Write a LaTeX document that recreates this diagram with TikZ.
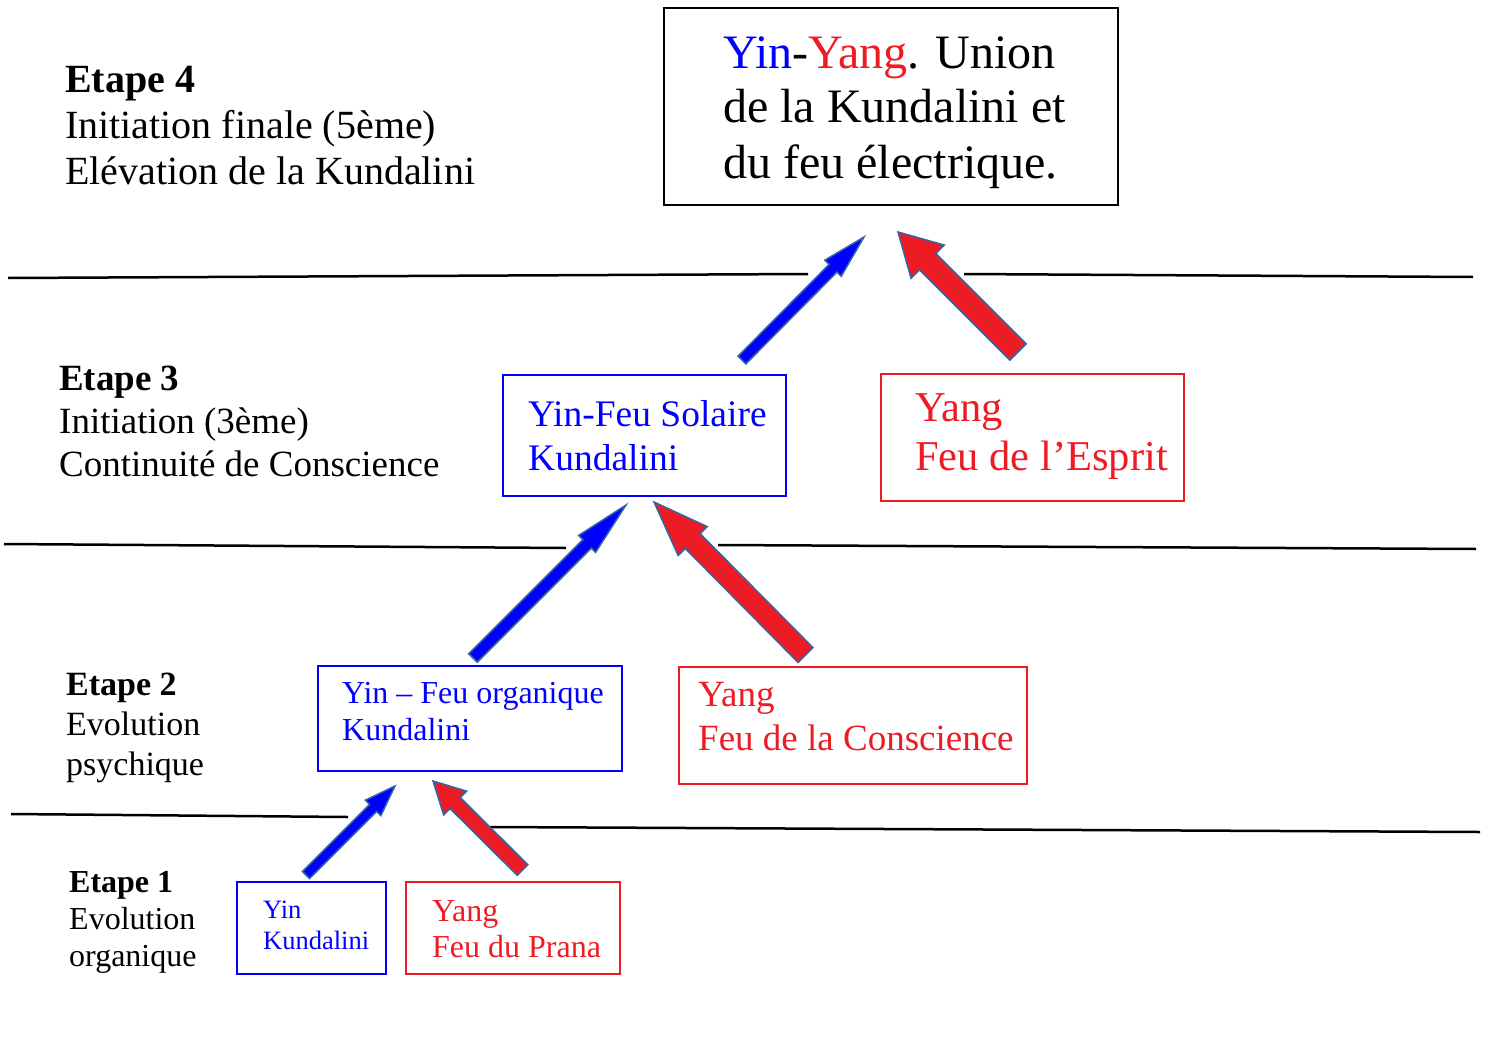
\documentclass[tikz,border=0pt]{standalone}
\usepackage{fontspec}
\setmainfont{Liberation Serif}
\usepackage{tikz}
\usetikzlibrary{calc}

\definecolor{yinblue}{RGB}{0,0,255}
\definecolor{yangred}{RGB}{237,28,36}
\definecolor{arrowline}{RGB}{52,101,164}

\newcommand{\txtsize}[2]{\fontsize{#1pt}{#2pt}\selectfont}
% block arrow: tail, tip, fill, shaft width, head width, head length
\newcommand{\fatarrow}[6]{%
  \path[arrowedge, fill=#3] let \p1=(#1), \p2=(#2),
      \n1={atan2(\y2-\y1,\x2-\x1)}, \n2={veclen(\x2-\x1,\y2-\y1)} in
    ($(#1)+(\n1+90:#4/2)$) -- ++(\n1:\n2-#6) -- ++(\n1+90:#5/2-#4/2) -- (#2)
    -- ($(#2)+(\n1+180:#6)+(\n1-90:#5/2)$) -- ++(\n1+90:#5/2-#4/2)
    -- ($(#1)+(\n1-90:#4/2)$) -- cycle;}

\begin{document}
\begin{tikzpicture}[x=1pt,y=1pt,
    box/.style={draw, line width=2pt, inner sep=0pt},
    bluebox/.style={box, draw=yinblue},
    redbox/.style={box, draw=yangred},
    txt/.style={anchor=base west, align=left, inner sep=0pt},
    separator/.style={line width=2.5pt},
    arrowedge/.style={draw=arrowline, line width=1.5pt, line join=miter}]
  \useasboundingbox (0,0) rectangle (1490,-1046);

  % stage labels (placed at the baseline of their last line)
  \node[txt, font=\txtsize{40}{46}] (etape4) at (65,-184)
    {\textbf{Etape 4}\\Initiation finale (5ème)\\Elévation de la Kundalini};
  \node[txt, font=\txtsize{37}{43}] (etape3) at (59,-476)
    {\textbf{Etape 3}\\Initiation (3ème)\\Continuité de Conscience};
  \node[txt, font=\txtsize{34}{40}] (etape2) at (66,-775)
    {\textbf{Etape 2}\\Evolution\\psychique};
  \node[txt, font=\txtsize{32}{37}] (etape1) at (69,-966)
    {\textbf{Etape 1}\\Evolution\\organique};

  % boxes
  \node[box, minimum width=454pt, minimum height=197pt] (final) at (891,-106.5) {};
  \node[bluebox, minimum width=283pt, minimum height=121pt] (yin3) at (644.5,-435.5) {};
  \node[redbox, minimum width=303pt, minimum height=127pt] (yang3) at (1032.5,-437.5) {};
  \node[bluebox, minimum width=304pt, minimum height=105pt] (yin2) at (470,-718.5) {};
  \node[redbox, minimum width=348pt, minimum height=117pt] (yang2) at (853,-725.5) {};
  \node[bluebox, minimum width=149pt, minimum height=92pt] (yin1) at (311.5,-928) {};
  \node[redbox, minimum width=214pt, minimum height=92pt] (yang1) at (513,-928) {};

  % box texts
  \node[txt, font=\txtsize{48}{55}] (finaltxt) at (723,-178)
    {\textcolor{yinblue}{Yin}-\textcolor{yangred}{Yang}. Union\\de la Kundalini et\\du feu électrique.};
  \node[txt, text=yinblue, font=\txtsize{37.5}{44}] (yin3txt) at (528,-470)
    {Yin-Feu Solaire\\Kundalini};
  \node[txt, text=yangred, font=\txtsize{42.5}{49}] (yang3txt) at (915,-470)
    {Yang\\Feu de l’Esprit};
  \node[txt, text=yinblue, font=\txtsize{32}{37}] (yin2txt) at (342,-740)
    {Yin – Feu organique\\Kundalini};
  \node[txt, text=yangred, font=\txtsize{37}{44}] (yang2txt) at (698,-750)
    {Yang\\Feu de la Conscience};
  \node[txt, text=yinblue, font=\txtsize{26.5}{31}] (yin1txt) at (263,-949)
    {Yin\\Kundalini};
  \node[txt, text=yangred, font=\txtsize{32}{36}] (yang1txt) at (432,-957)
    {Yang\\Feu du Prana};

  % separators
  \draw[separator] (8,-278) -- (808,-274);
  \draw[separator] (964,-274) -- (1473,-277);
  \draw[separator] (4,-544) -- (566,-548);
  \draw[separator] (718,-545) -- (1476,-549);
  \draw[separator] (11,-814) -- (348,-817);
  \draw[separator] (490,-827) -- (1480,-832);

  % arrow ends
  \coordinate (b3tail) at (742,-360);   \coordinate (b3tip) at (864,-237);
  \coordinate (r3tail) at (1018,-352);  \coordinate (r3tip) at (898,-232);
  \coordinate (b2tail) at (473,-658);   \coordinate (b2tip) at (626,-505);
  \coordinate (r2tail) at (805.5,-655); \coordinate (r2tip) at (654,-502);
  \coordinate (b1tail) at (306,-875);   \coordinate (b1tip) at (395,-786);
  \coordinate (r1tail) at (522.5,-870); \coordinate (r1tip) at (433,-781);

  % arrows
  \fatarrow{b3tail}{b3tip}{yinblue}{11}{23}{44}
  \fatarrow{r3tail}{r3tip}{yangred}{23}{47}{42}
  \fatarrow{b2tail}{b2tip}{yinblue}{12}{24}{55}
  \fatarrow{r2tail}{r2tip}{yangred}{21}{41}{55}
  \fatarrow{b1tail}{b1tip}{yinblue}{10}{22}{31}
  \fatarrow{r1tail}{r1tip}{yangred}{15}{33}{31}
\end{tikzpicture}
\end{document}
